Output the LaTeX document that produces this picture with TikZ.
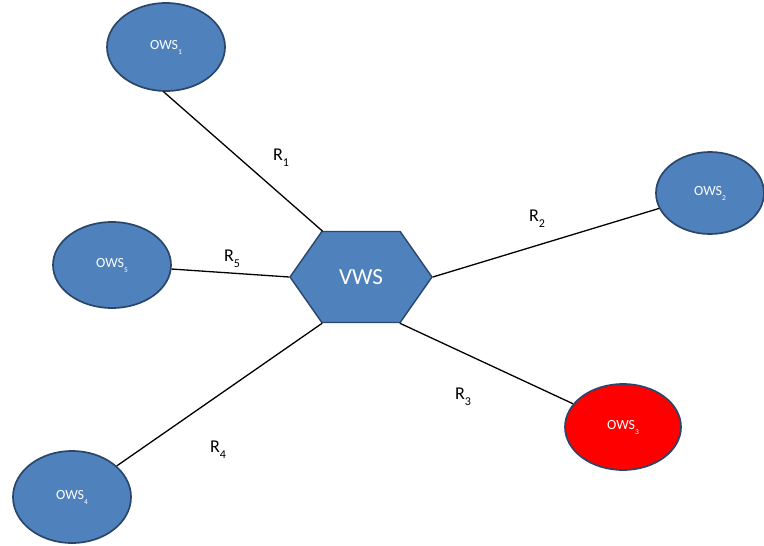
\documentclass[tikz,border=0pt]{standalone}
\usepackage{fontspec}
\setmainfont{Carlito}
\usepackage{xcolor}
\usetikzlibrary{shapes.geometric,shapes.symbols}

\definecolor{wsblue}{HTML}{4F81BD}
\definecolor{wsedge}{HTML}{2A466B}
\definecolor{wsred}{HTML}{FF0000}

% small lowered indices for the service names and the links
\newcommand{\wsidx}[1]{\raisebox{-5pt}{\fontsize{7.5}{8}\selectfont #1}}
\newcommand{\ridx}[1]{\raisebox{-6pt}{\fontsize{12}{12}\selectfont #1}}

\tikzset{
  ows/.style={ellipse, draw=wsedge, line width=1.7pt, fill=wsblue, text=white,
    minimum width=118pt, minimum height=88pt, inner sep=0pt,
    font=\fontsize{14}{16}\selectfont},
  vws/.style={signal, signal to=east and west, signal pointer angle=110,
    draw=wsedge, line width=1.4pt, fill=wsblue, text=white,
    minimum width=142pt, minimum height=91pt, inner sep=0pt,
    font=\fontsize{23}{26}\selectfont},
  link/.style={line width=1.3pt},
  rlabel/.style={font=\fontsize{18}{20}\selectfont}
}

\begin{document}
\begin{tikzpicture}[x=1pt, y=-1pt]
    \useasboundingbox[fill=white] (0,0) rectangle (764,546);

    % Virtual web service in the middle
    \node[vws] (vws) at (361,277) {VWS};

    % Original web services around it
    \node[ows] (ows1) at (166,47) {OWS\wsidx{1}};
    \node[ows, minimum width=108pt, minimum height=82pt] (ows2) at (710,193) {OWS\wsidx{2}};
    \node[ows, fill=wsred, minimum width=116pt, minimum height=86pt] (ows3) at (623,427) {OWS\wsidx{3}};
    \node[ows, minimum height=92pt] (ows4) at (72,497) {OWS\wsidx{4}};
    \node[ows, minimum height=86pt] (ows5) at (112,265) {OWS\wsidx{5}};

    % Links
    \draw[link] (ows1.-93) -- (vws.130);
    \draw[link] (ows2) -- (vws.east);
    \draw[link] (ows3) -- (vws.310);
    \draw[link] (ows4) -- (vws.230);
    \draw[link] (ows5) -- (vws.west);

    % Labels
    \node[rlabel] (r1) at (281,158) {R\ridx{1}};
    \node[rlabel] (r2) at (537,219) {R\ridx{2}};
    \node[rlabel] (r3) at (463,397) {R\ridx{3}};
    \node[rlabel] (r4) at (218,450) {R\ridx{4}};
    \node[rlabel] (r5) at (232,259) {R\ridx{5}};
\end{tikzpicture}
\end{document}
